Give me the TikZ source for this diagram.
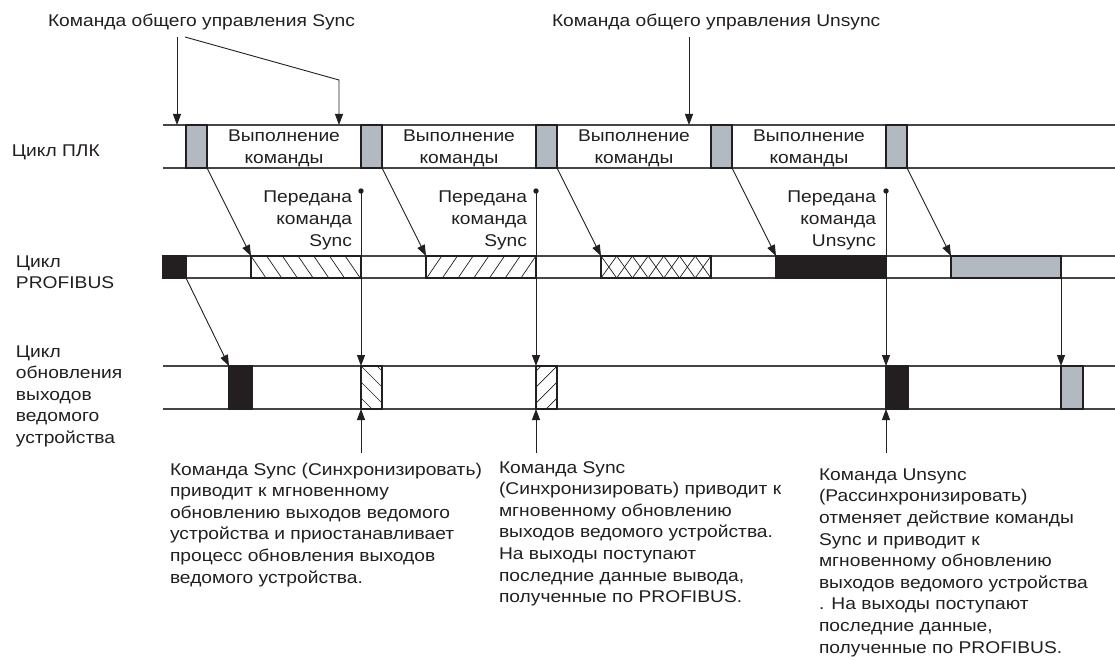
\documentclass[tikz,border=0pt]{standalone}
\usepackage{fontspec}
\setmainfont[FakeStretch=1.13]{Liberation Sans}
\usetikzlibrary{arrows.meta}
\definecolor{ink}{HTML}{231F20}
\definecolor{cyc}{HTML}{B3B9C0}
\definecolor{rowclr}{HTML}{454547}
\begin{document}
\begin{tikzpicture}[x=1pt,y=-1pt,
  lbl/.style={inner sep=0pt, outer sep=0pt, text=ink, font=\fontsize{17}{21.6}\selectfont},
  rowline/.style={draw=rowclr, line width=1.1pt},
  cbox/.style={draw=ink, line width=1.1pt, inner sep=0pt, outer sep=0pt, anchor=north west},
  plcbox/.style={cbox, fill=cyc, minimum width=21pt, minimum height=43pt},
  pbbox/.style={cbox, minimum width=#1, minimum height=22pt},
  slbox/.style={cbox, minimum width=#1, minimum height=43pt},
  hatch/.style={draw=ink, line width=0.7pt},
  conn/.style={draw=ink, line width=0.9pt, -{Triangle[length=11pt,width=8pt]}}
]
\useasboundingbox (0,0) rectangle (1115,660);
\fill[white] (0,0) rectangle (1115,660);

% row lines
\draw[rowline] (163,125) -- (1115,125);
\draw[rowline] (163,168) -- (1115,168);
\draw[rowline] (163,256) -- (1115,256);
\draw[rowline] (163,278) -- (1115,278);
\draw[rowline] (163,366) -- (1115,366);
\draw[rowline] (163,409) -- (1115,409);

% left labels (anchor=base = baseline of last line)
\node[lbl, anchor=base west] (lplc) at (12,157) {Цикл ПЛК};
\node[lbl, anchor=base west, align=left] (lpb) at (16,288.6) {Цикл\\PROFIBUS};
\node[lbl, anchor=base west, align=left] (lsl) at (16,443.4) {Цикл\\обновления\\выходов\\ведомого\\устройства};

% top labels
\node[lbl, anchor=base west] (tsync) at (48,27) {Команда общего управления Sync};
\node[lbl, anchor=base west] (tunsync) at (552,27) {Команда общего управления Unsync};

% PLC cycle boxes
\node[plcbox] (g1) at (186,125) {};
\node[plcbox] (g2) at (361,125) {};
\node[plcbox] (g3) at (536,125) {};
\node[plcbox] (g4) at (711,125) {};
\node[plcbox] (g5) at (886,125) {};

\foreach \cx/\nm in {284/e1,459/e2,634/e3,809/e4}
  \node[lbl, anchor=base, align=center] (\nm) at (\cx,163.3) {Выполнение\\команды};

% PROFIBUS boxes
\node[pbbox=23pt, fill=ink] (pb0) at (163,256) {};
\node[pbbox=110pt, fill=white] (pb1) at (251,256) {};
\node[pbbox=110pt, fill=white] (pb2) at (426,256) {};
\node[pbbox=110pt, fill=white] (pb3) at (601,256) {};
\node[pbbox=110pt, fill=ink] (pb4) at (776,256) {};
\node[pbbox=110pt, fill=cyc] (pb5) at (951,256) {};

\begin{scope}
  \clip (251,256) rectangle (361,278);
  \foreach \k in {-1,...,8} \draw[hatch] ({251+15.7*\k},256) -- ({266+15.7*\k},278);
\end{scope}
\begin{scope}
  \clip (426,256) rectangle (536,278);
  \foreach \k in {0,...,9} \draw[hatch] ({426+15.7*\k},256) -- ({411+15.7*\k},278);
\end{scope}
\begin{scope}
  \clip (601,256) rectangle (711,278);
  \foreach \k in {-1,...,8} \draw[hatch] ({601+15.7*\k},256) -- ({616.7+15.7*\k},278);
  \foreach \k in {0,...,9} \draw[hatch] ({601+15.7*\k},256) -- ({585.3+15.7*\k},278);
\end{scope}
\draw[draw=ink, line width=1.1pt] (pb1.north west) rectangle (pb1.south east);
\draw[draw=ink, line width=1.1pt] (pb2.north west) rectangle (pb2.south east);
\draw[draw=ink, line width=1.1pt] (pb3.north west) rectangle (pb3.south east);

% slave boxes
\node[slbox=23pt, fill=ink] (s0) at (229,366) {};
\node[slbox=21pt, fill=white] (s1) at (361,366) {};
\node[slbox=21pt, fill=white] (s2) at (536,366) {};
\node[slbox=22pt, fill=ink] (s3) at (886,366) {};
\node[slbox=22pt, fill=cyc] (s4) at (1061,366) {};

\begin{scope}
  \clip (361,366) rectangle (382,409);
  \foreach \k in {-3,...,1} \draw[hatch] ({361+16*\k},366) -- ({404+16*\k},409);
\end{scope}
\begin{scope}
  \clip (536,366) rectangle (557,409);
  \foreach \k in {-3,...,1} \draw[hatch] ({557-16*\k},366) -- ({514-16*\k},409);
\end{scope}
\draw[draw=ink, line width=1.1pt] (s1.north west) rectangle (s1.south east);
\draw[draw=ink, line width=1.1pt] (s2.north west) rectangle (s2.south east);

% "Передана команда" labels
\node[lbl, anchor=base east, align=right] (p1) at (352,246.2) {Передана\\команда\\Sync};
\node[lbl, anchor=base east, align=right] (p2) at (527,246.2) {Передана\\команда\\Sync};
\node[lbl, anchor=base east, align=right] (p3) at (876,246.2) {Передана\\команда\\Unsync};

% top command arrows
\coordinate (a1s) at (177,37);
\coordinate (a1e) at (177,125);
\coordinate (a2s) at (185,37);
\coordinate (a2k) at (339,80);
\coordinate (a2e) at (339,125);
\coordinate (a3s) at (689,37);
\coordinate (a3e) at (689,125);
\draw[conn] (a1s) -- (a1e);
\draw[conn] (a2s) -- (a2k) -- (a2e);
\draw[conn] (a3s) -- (a3e);

% PLC -> PROFIBUS
\draw[conn] (g1.south east) -- (pb1.north west);
\draw[conn] (g2.south east) -- (pb2.north west);
\draw[conn] (g3.south east) -- (pb3.north west);
\draw[conn] (g4.south east) -- (pb4.north west);
\draw[conn] (g5.south east) -- (pb5.north west);

% PROFIBUS -> slave
\draw[conn] (pb0.south east) -- (s0.north west);
\coordinate (d1) at (361,191);
\coordinate (d2) at (536,191);
\coordinate (d3) at (886,191);
\fill[ink] (d1) circle (2.7pt);
\fill[ink] (d2) circle (2.7pt);
\fill[ink] (d3) circle (2.7pt);
\draw[conn] (d1) -- (s1.north west);
\draw[conn] (d2) -- (s2.north west);
\draw[conn] (d3) -- (s3.north west);
\draw[conn] (pb5.south east) -- (s4.north west);

% bottom explanations
\node[lbl, anchor=base west, align=left] (n1) at (170,583) {Команда Sync (Синхронизировать)\\приводит к мгновенному\\обновлению выходов ведомого\\устройства и приостанавливает\\процесс обновления выходов\\ведомого устройства.};
\node[lbl, anchor=base west, align=left] (n2) at (499,602.6) {Команда Sync\\(Синхронизировать) приводит к\\мгновенному обновлению\\выходов ведомого устройства.\\На выходы поступают\\последние данные вывода,\\полученные по PROFIBUS.};
\node[lbl, anchor=base west, align=left] (n3) at (819,653) {Команда Unsync\\(Рассинхронизировать)\\отменяет действие команды\\Sync и приводит к\\мгновенному обновлению\\выходов ведомого устройства\\. На выходы поступают\\последние данные,\\полученные по PROFIBUS.};

\coordinate (u1) at (361,453);
\coordinate (u2) at (536,453);
\coordinate (u3) at (886,453);
\draw[conn] (u1) -- (s1.south west);
\draw[conn] (u2) -- (s2.south west);
\draw[conn] (u3) -- (s3.south west);
\end{tikzpicture}
\end{document}
